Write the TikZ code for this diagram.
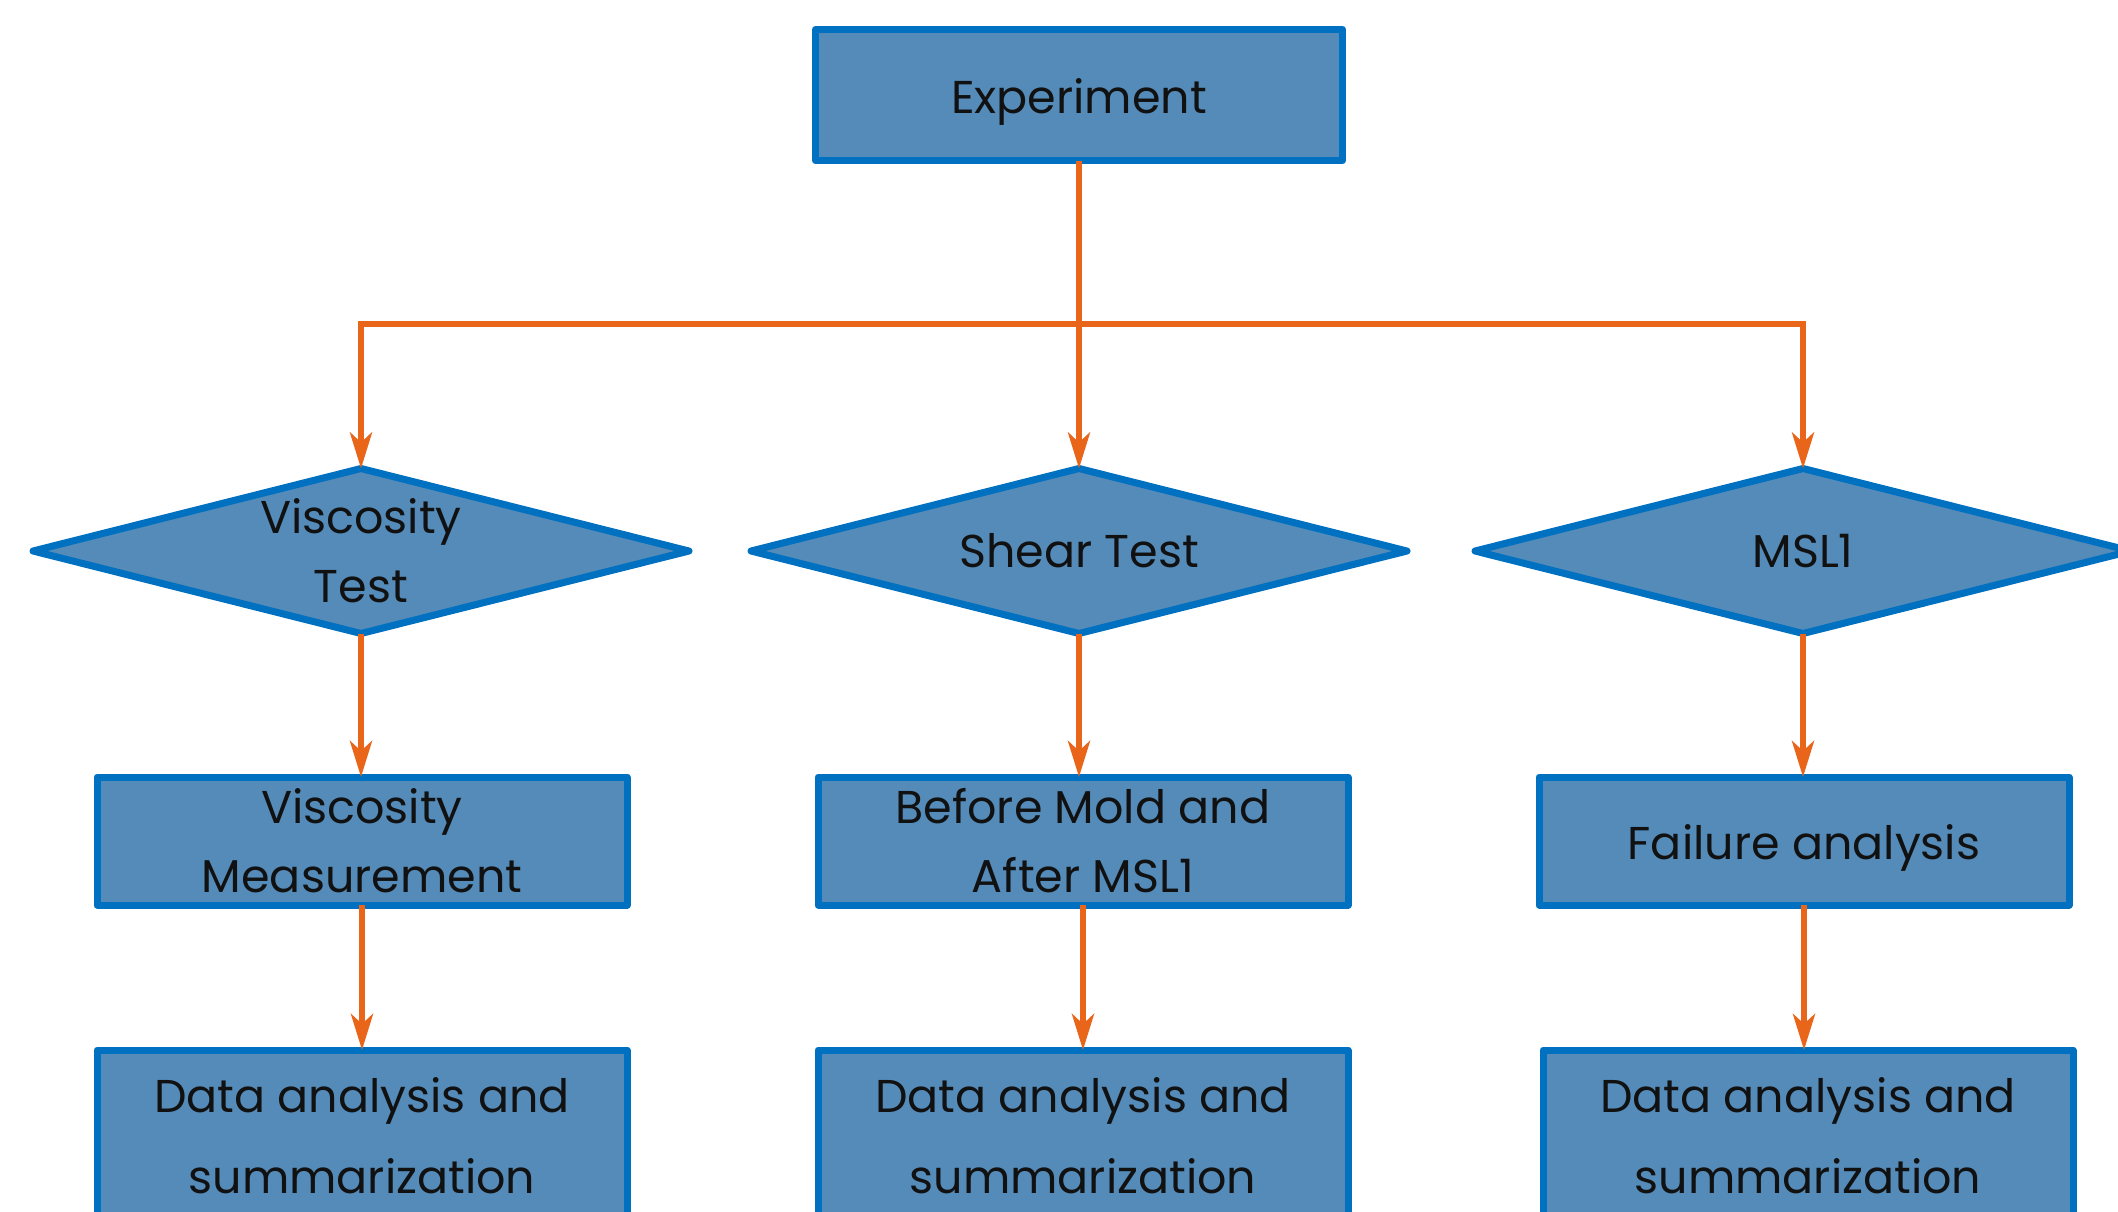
\documentclass[tikz,border=0pt]{standalone}
\usepackage{fontspec}
\setmainfont{Poppins}
\usetikzlibrary{shapes.geometric,arrows.meta}
\definecolor{boxfill}{RGB}{84,139,185}
\definecolor{boxline}{RGB}{0,112,192}
\definecolor{arr}{RGB}{233,101,26}
\definecolor{textc}{RGB}{17,17,17}
\newcommand{\lowr}[1]{\raisebox{-7pt}[\height][\depth]{#1}}
\begin{document}
\begin{tikzpicture}[x=1pt,y=-1pt,
  box/.style={draw=boxline, fill=boxfill, line width=7pt, line join=round, inner sep=0pt, outer sep=0pt, align=center, text=textc, font=\fontsize{46}{69}\selectfont},
  lastbox/.style={box, font=\fontsize{46}{81}\selectfont, minimum width=530pt, minimum height=172pt},
  midbox/.style={box, minimum width=530pt, minimum height=128pt},
  dia/.style={diamond, draw=boxline, fill=boxfill, line width=7pt, line join=round, inner sep=0pt, outer sep=0pt, minimum width=656pt, minimum height=165pt},
  lbl/.style={align=center, text=textc, inner sep=0pt, font=\fontsize{46}{69}\selectfont},
  conn/.style={draw=arr, line width=6pt, line join=miter},
  arrow/.style={conn, -{Stealth[length=36pt, width=22pt, inset=10pt]}}
]
\useasboundingbox (0,0) rectangle (2118,1211);
\fill[white] (0,0) rectangle (2118,1211);

% top
\node[box, minimum width=527pt, minimum height=131pt] (exp) at (1079,95) {\lowr{Experiment}};

% diamonds
\node[dia] (d1) at (361,551) {};
\node[dia] (d2) at (1079,551) {};
\node[dia] (d3) at (1803,551) {};
\node[lbl] (d1t) at (d1) {Viscosity\\Test};
\node[lbl] (d2t) at (d2) {Shear Test};
\node[lbl] (d3t) at (d3) {MSL1};

% second row
\node[midbox] (b1) at (362,841) {Viscosity\\Measurement};
\node[midbox] (b2) at (1083,841) {Before Mold and\\After MSL1};
\node[midbox] (b3) at (1804,841) {\lowr{Failure analysis}};

% third row
\node[lastbox] (c1) at (362,1136) {Data analysis and\\summarization};
\node[lastbox] (c2) at (1083,1136) {Data analysis and\\summarization};
\node[lastbox] (c3) at (1808,1136) {Data analysis and\\summarization};

% connectors
\coordinate (j) at (1079,324);
\draw[arrow] (exp.south) -- (d2.north);
\draw[arrow] (j) -| (d1.north);
\draw[arrow] (j) -| (d3.north);

\draw[arrow] (d1.south) -- (d1.south |- b1.north);
\draw[arrow] (d2.south) -- (d2.south |- b2.north);
\draw[arrow] (d3.south) -- (d3.south |- b3.north);

\draw[arrow] (b1.south) -- (b1.south |- c1.north);
\draw[arrow] (b2.south) -- (b2.south |- c2.north);
\draw[arrow] (b3.south) -- (b3.south |- c3.north);
\end{tikzpicture}
\end{document}
